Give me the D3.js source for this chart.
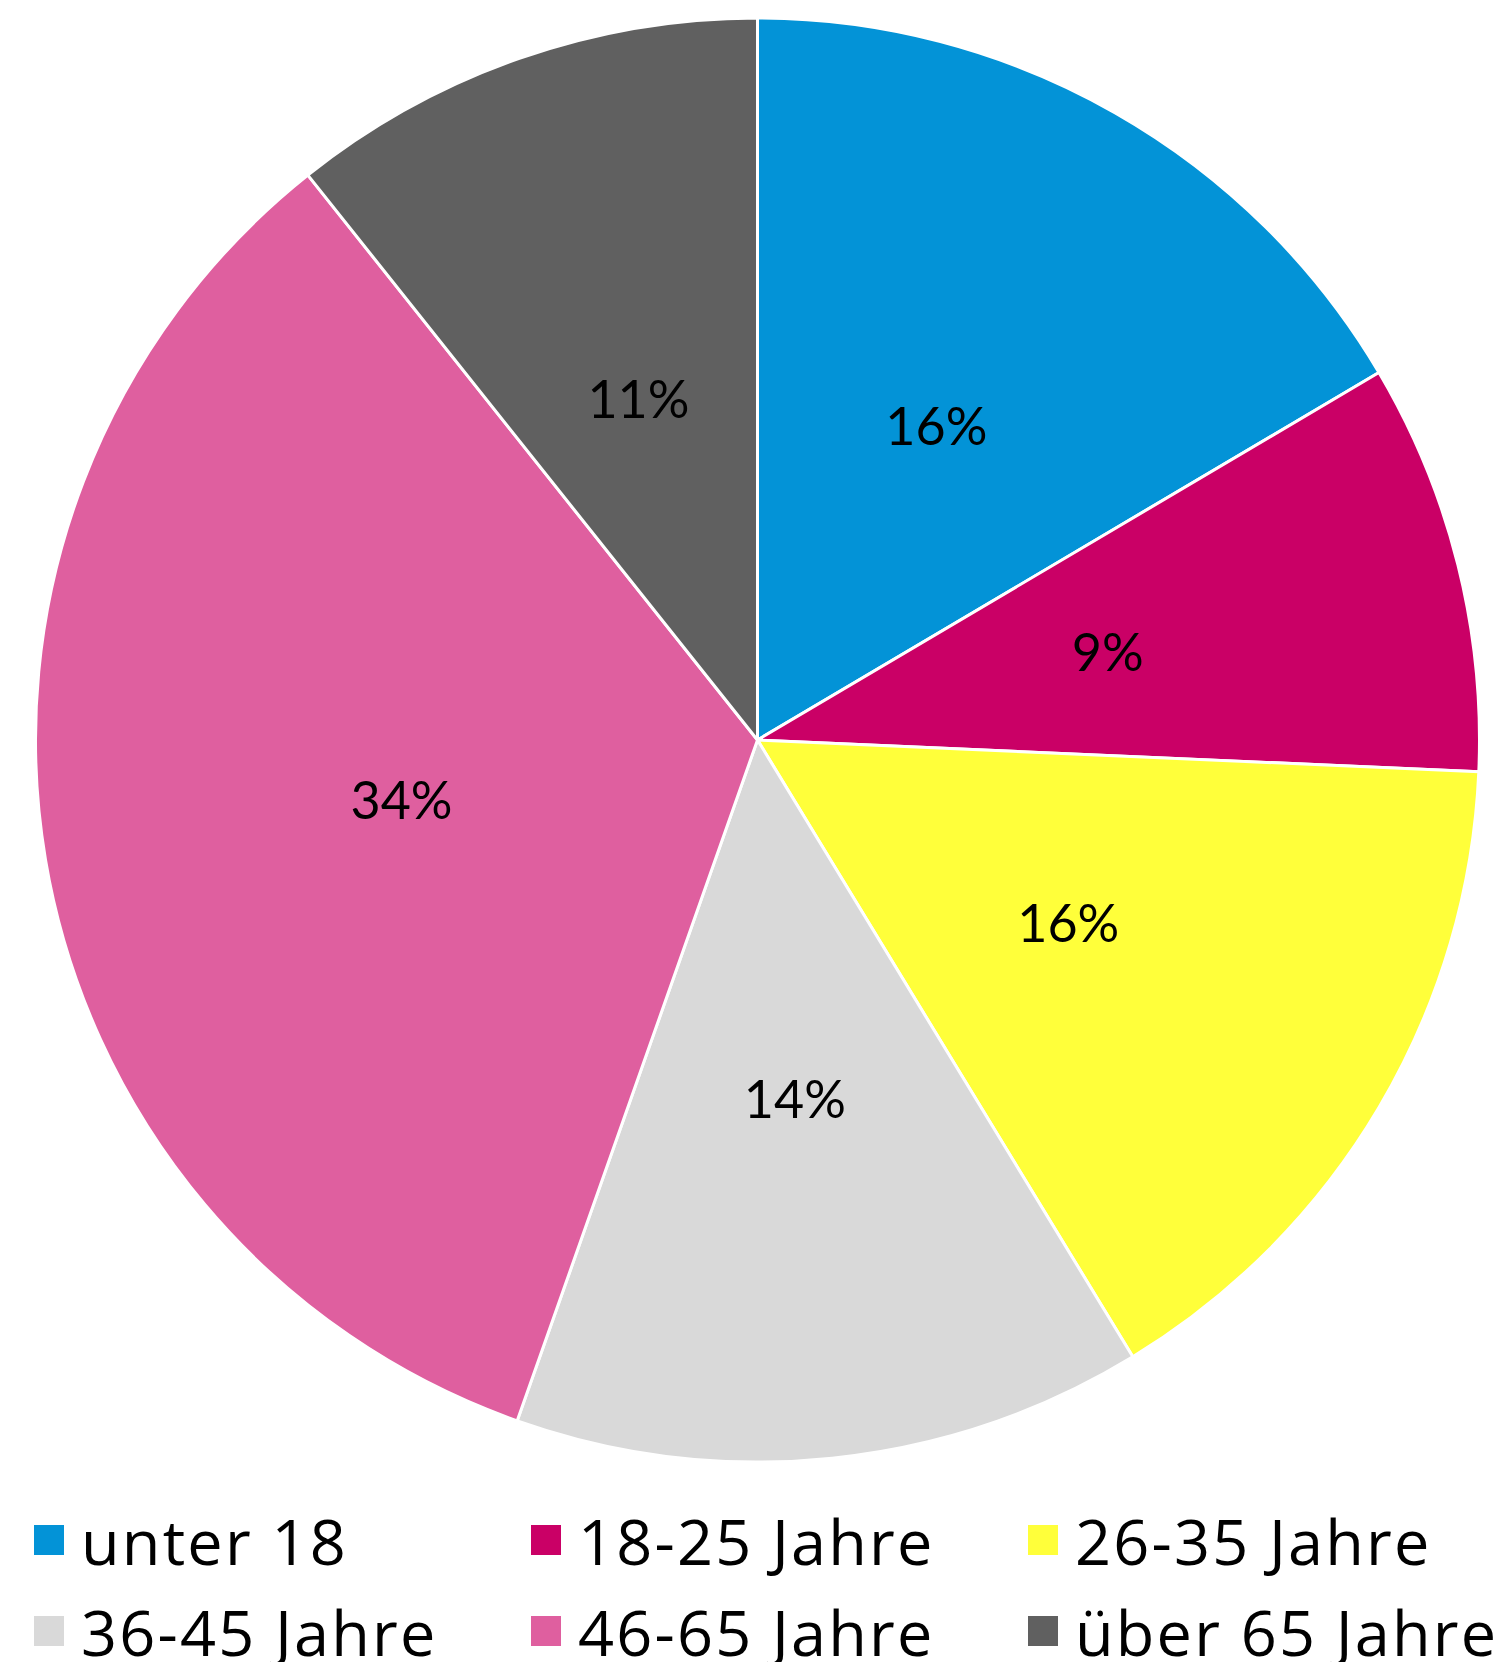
<!DOCTYPE html>
<html>
<head>
<meta charset="utf-8">
<script src="https://cdn.jsdelivr.net/npm/d3@7"></script>
<style>
  body { margin: 0; background: #fff; }
  svg { display: block; }
</style>
</head>
<body>
<svg id="chart" width="1507" height="1662"></svg>
<script>
const categories = ["unter 18", "18-25 Jahre", "26-35 Jahre", "36-45 Jahre", "46-65 Jahre", "über 65 Jahre"];
const values = [16.5, 9.2, 15.6, 14.1, 33.9, 10.7];
const valueLabels = ["16%", "9%", "16%", "14%", "34%", "11%"];
const colors = ["#0393D7", "#CA0066", "#FFFF3A", "#D9D9D9", "#DF5F9F", "#606060"];

const svg = d3.select("#chart");
const cx = 757.5, cy = 740, radius = 722;

const data = categories.map((c, i) => ({ label: c, value: values[i], text: valueLabels[i] }));

const color = d3.scaleOrdinal()
    .domain(categories)
    .range(colors);

const pie = d3.pie()
    .value(d => d.value)
    .sort(null);

const arc = d3.arc()
    .innerRadius(0)
    .outerRadius(radius);

const g = svg.append("g")
    .attr("transform", `translate(${cx},${cy})`);

const slices = g.selectAll(".arc")
    .data(pie(data))
    .join("g")
    .attr("class", "arc");

slices.append("path")
    .attr("d", arc)
    .attr("fill", d => color(d.data.label))
    .attr("stroke", "white")
    .style("stroke-width", "3px")
    .style("stroke-linejoin", "round");

// percentage labels at the slice centroids
slices.append("text")
    .attr("transform", d => `translate(${arc.centroid(d)})`)
    .attr("text-anchor", "middle")
    .attr("dy", "0.36em")
    .style("font-family", "Lato, 'Open Sans', sans-serif")
    .style("font-size", "52px")
    .attr("fill", "#000")
    .text(d => d.data.text);

// Legend, 3 columns x 2 rows
const colX = [34, 531, 1028];
const rowY = [1525, 1616];
const legend = svg.selectAll(".legend")
    .data(categories)
    .join("g")
    .attr("class", "legend")
    .attr("transform", (d, i) => `translate(${colX[i % 3]},${rowY[Math.floor(i / 3)]})`);

legend.append("rect")
    .attr("width", 30)
    .attr("height", 30)
    .attr("fill", color);

legend.append("text")
    .attr("x", 47)
    .attr("y", 40)
    .style("font-family", "'Open Sans', sans-serif")
    .style("font-size", "63px")
    .style("letter-spacing", "2.2px")
    .attr("fill", "#000")
    .text(d => d);
</script>
</body>
</html>
